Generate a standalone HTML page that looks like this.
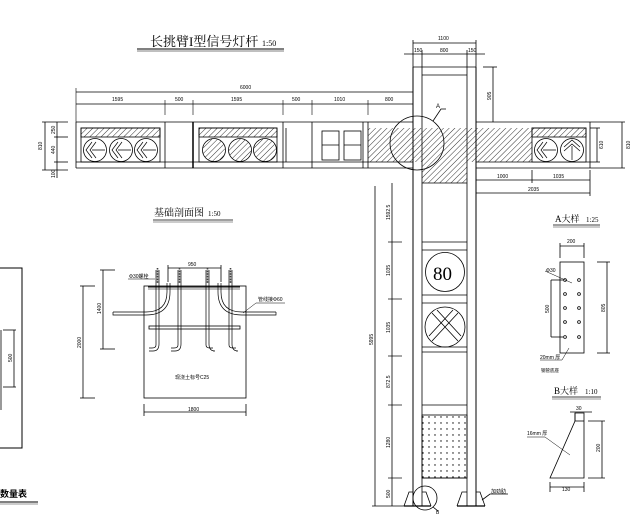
<!DOCTYPE html>
<html><head><meta charset="utf-8"><style>
html,body{margin:0;padding:0;background:#fff;}
svg{display:block;}
text{font-family:"Liberation Sans","Noto Sans CJK SC",sans-serif;fill:#000;}
.d{font-size:5px;}
.t{font-family:"Liberation Serif","Noto Serif CJK SC",serif;}
</style></head><body>
<svg width="639" height="522" viewBox="0 0 639 522" xmlns="http://www.w3.org/2000/svg" stroke="#000" fill="none" stroke-width="0.8">
<defs>
<pattern id="h" width="4" height="4" patternUnits="userSpaceOnUse" patternTransform="rotate(45)">
<line x1="0" y1="0" x2="0" y2="4" stroke="#000" stroke-width="0.8"/>
</pattern>
<pattern id="dots" width="6" height="6" patternUnits="userSpaceOnUse">
<circle cx="3" cy="3" r="0.7" fill="#000" stroke="none"/>
</pattern>
</defs>

<!-- Title -->
<text x="150" y="46" class="t" font-size="13" stroke="none">长挑臂I型信号灯杆</text>
<text x="262" y="46" class="t" font-size="8" stroke="none">1:50</text>
<line x1="137" y1="49" x2="284" y2="49" stroke-width="1"/>
<line x1="137" y1="51" x2="284" y2="51" stroke-width="0.5"/>

<!-- top dims -->
<line x1="76" y1="92" x2="413" y2="92"/>
<line x1="76" y1="104" x2="413" y2="104"/>
<g stroke-width="0.6">
<line x1="76" y1="88" x2="76" y2="122"/>
<line x1="165" y1="100" x2="165" y2="115"/><line x1="193" y1="100" x2="193" y2="115"/>
<line x1="283" y1="100" x2="283" y2="115"/><line x1="312" y1="100" x2="312" y2="115"/>
<line x1="368" y1="100" x2="368" y2="115"/>
</g>
<g stroke="none">
<text x="240" y="89" class="d">6000</text>
<text x="112" y="101" class="d">1595</text>
<text x="175" y="101" class="d">500</text>
<text x="231" y="101" class="d">1595</text>
<text x="292" y="101" class="d">500</text>
<text x="334" y="101" class="d">1010</text>
<text x="385" y="101" class="d">800</text>
</g>

<!-- left dims -->
<line x1="45" y1="122" x2="45" y2="170"/>
<line x1="42" y1="122" x2="68" y2="122"/><line x1="42" y1="170" x2="68" y2="170"/>
<line x1="57" y1="122" x2="57" y2="178"/>
<line x1="54" y1="137" x2="68" y2="137"/><line x1="54" y1="162" x2="68" y2="162"/>
<g stroke="none" class="d">
<text transform="translate(42,150) rotate(-90)" class="d">810</text>
<text transform="translate(55,134) rotate(-90)" class="d">250</text>
<text transform="translate(55,154) rotate(-90)" class="d">440</text>
<text transform="translate(55,178) rotate(-90)" class="d">100</text>
</g>

<!-- Arm -->
<line x1="76" y1="122" x2="413" y2="122"/>
<line x1="476" y1="122" x2="590" y2="122"/>
<line x1="76" y1="168" x2="413" y2="168"/>
<line x1="476" y1="168" x2="590" y2="168"/>
<line x1="76" y1="162" x2="413" y2="162"/>
<line x1="476" y1="162" x2="590" y2="162"/>
<line x1="76" y1="122" x2="76" y2="168"/>
<line x1="590" y1="122" x2="590" y2="168"/>
<!-- unit1 -->
<rect x="81" y="128" width="79" height="34"/>
<rect x="81" y="128" width="79" height="9" fill="url(#h)"/>
<g>
<circle cx="95" cy="150" r="11.5"/><circle cx="121" cy="150" r="11.5"/><circle cx="146" cy="150" r="11.5"/>
</g>
<g stroke-width="0.7">
<path d="M92 142 L86 150 L92 158 M96 142 L90 150 L96 158 M92 150 H105"/>
<path d="M118 142 L112 150 L118 158 M122 142 L116 150 L122 158 M118 150 H131"/>
<path d="M143 142 L137 150 L143 158 M147 142 L141 150 L147 158 M143 150 H156"/>
</g>
<line x1="165" y1="122" x2="165" y2="168"/>
<line x1="193" y1="122" x2="193" y2="168" stroke-width="1.5"/>
<!-- unit2 -->
<rect x="199" y="128" width="78" height="34"/>
<rect x="199" y="128" width="78" height="9" fill="url(#h)"/>
<circle cx="214" cy="150" r="11.5" fill="url(#h)"/>
<circle cx="240" cy="150" r="11.5" fill="url(#h)"/>
<circle cx="265" cy="150" r="11.5" fill="url(#h)"/>
<line x1="283" y1="122" x2="283" y2="168"/><line x1="286" y1="128" x2="286" y2="162"/>
<line x1="312" y1="122" x2="312" y2="168"/>
<!-- unit3 -->
<rect x="322" y="131" width="17" height="29"/><line x1="322" y1="145" x2="339" y2="145"/>
<rect x="344" y="131" width="17" height="29"/><line x1="344" y1="145" x2="361" y2="145"/>
<line x1="363" y1="122" x2="363" y2="168"/><line x1="368" y1="122" x2="368" y2="168"/>
<!-- hatched center -->
<rect x="368" y="128" width="164" height="34" fill="url(#h)" stroke="none"/>
<rect x="422" y="162" width="45" height="21" fill="url(#h)" stroke="none"/>
<line x1="422" y1="183" x2="467" y2="183"/>
<!-- unit right -->
<rect x="532" y="128" width="54" height="34" fill="#fff"/>
<rect x="532" y="128" width="54" height="9" fill="url(#h)"/>
<circle cx="546" cy="150" r="11.5"/><circle cx="572" cy="150" r="11.5"/>
<g stroke-width="0.7">
<path d="M543 142 L537 150 L543 158 M547 142 L541 150 L547 158 M543 150 H556"/>
<path d="M564 147 L572 140 L580 147 M564 151 L572 144 L580 151 M572 146 V160"/>
</g>

<!-- Pole -->
<line x1="413" y1="67" x2="413" y2="506" stroke-width="1"/>
<line x1="476" y1="67" x2="476" y2="506" stroke-width="1"/>
<line x1="422" y1="67" x2="422" y2="506"/>
<line x1="467" y1="67" x2="467" y2="506"/>
<line x1="413" y1="67" x2="476" y2="67"/>
<line x1="422" y1="75" x2="467" y2="75"/>
<circle cx="417" cy="143" r="27"/>
<path d="M433 121 L441 109 H446"/>
<text x="436" y="108" font-size="6" stroke="none">A</text>

<!-- pole top dims -->
<line x1="413" y1="43" x2="476" y2="43"/>
<line x1="404" y1="54" x2="485" y2="54"/>
<line x1="413" y1="40" x2="413" y2="67"/><line x1="476" y1="40" x2="476" y2="67"/>
<line x1="422" y1="50" x2="422" y2="67"/><line x1="467" y1="50" x2="467" y2="67"/>
<g stroke="none">
<text x="438" y="40" class="d">1100</text>
<text x="414" y="52" class="d">150</text>
<text x="440" y="52" class="d">800</text>
<text x="468" y="52" class="d">150</text>
<text transform="translate(491,100) rotate(-90)" class="d">905</text>
</g>
<line x1="493" y1="67" x2="493" y2="122"/><line x1="483" y1="67" x2="497" y2="67"/>
<!-- right dims -->
<line x1="597" y1="128" x2="597" y2="162"/><line x1="590" y1="128" x2="600" y2="128"/><line x1="590" y1="162" x2="600" y2="162"/>
<line x1="622" y1="122" x2="622" y2="168"/><line x1="590" y1="122" x2="625" y2="122"/><line x1="590" y1="168" x2="625" y2="168"/>
<g stroke="none">
<text transform="translate(603,149) rotate(-90)" class="d">610</text>
<text transform="translate(630,149) rotate(-90)" class="d">810</text>
<text x="497" y="178" class="d">1000</text>
<text x="553" y="178" class="d">1035</text>
<text x="528" y="191" class="d">2035</text>
</g>
<line x1="476" y1="180" x2="590" y2="180"/><line x1="532" y1="170" x2="532" y2="183"/>
<line x1="476" y1="193" x2="590" y2="193"/>
<line x1="590" y1="170" x2="590" y2="196"/>

<!-- pole interior -->
<line x1="422" y1="242" x2="467" y2="242"/>
<line x1="422" y1="250" x2="467" y2="250"/>
<circle cx="445" cy="272" r="19.5"/>
<text x="433" y="280" font-size="19" stroke="none" class="t">80</text>
<line x1="422" y1="295" x2="467" y2="295"/>
<line x1="422" y1="303" x2="467" y2="303"/>
<circle cx="445" cy="327" r="20"/>
<path d="M432 313 L458 341 M437 310 L461 336 M458 313 L432 341 M453 310 L429 336" stroke-width="0.8"/>
<line x1="422" y1="347" x2="467" y2="347"/>
<line x1="422" y1="352" x2="467" y2="352"/>
<line x1="422" y1="405" x2="467" y2="405"/>
<rect x="422" y="415" width="45" height="63" fill="url(#dots)"/>
<line x1="422" y1="478" x2="467" y2="478"/>

<!-- pole left dims -->
<line x1="375" y1="186" x2="375" y2="506"/>
<line x1="392" y1="183" x2="392" y2="506"/>
<g stroke-width="0.7">
<line x1="388" y1="242" x2="402" y2="242"/><line x1="388" y1="299" x2="402" y2="299"/>
<line x1="388" y1="356" x2="402" y2="356"/><line x1="388" y1="405" x2="402" y2="405"/>
<line x1="388" y1="478" x2="402" y2="478"/><line x1="372" y1="506" x2="404" y2="506"/>
</g>
<g stroke="none">
<text transform="translate(373,345) rotate(-90)" class="d">5995</text>
<text transform="translate(390,220) rotate(-90)" class="d">1592.5</text>
<text transform="translate(390,276) rotate(-90)" class="d">1035</text>
<text transform="translate(390,333) rotate(-90)" class="d">1035</text>
<text transform="translate(390,388) rotate(-90)" class="d">872.5</text>
<text transform="translate(390,448) rotate(-90)" class="d">1280</text>
<text transform="translate(390,498) rotate(-90)" class="d">500</text>
</g>
<!-- base -->
<line x1="404" y1="506" x2="431" y2="506" stroke-width="1.3"/>
<line x1="457" y1="506" x2="485" y2="506" stroke-width="1.3"/>
<path d="M404 506 L409 492 H413 M422 492 H426 L431 506"/>
<path d="M457 506 L462 492 H467 M476 492 H480 L485 506"/>
<circle cx="425" cy="498" r="12"/>
<path d="M433 507 L438 511"/>
<text x="436" y="514" font-size="5" stroke="none">B</text>
<path d="M482 500 L490 494 H508"/>
<text x="491" y="493" font-size="5" stroke="none">加劲肋</text>

<!-- A detail -->
<text x="555" y="222" class="t" font-size="9" stroke="none">A大样</text>
<text x="586" y="222" class="t" font-size="7" stroke="none">1:25</text>
<line x1="553" y1="225" x2="600" y2="225"/><line x1="553" y1="227" x2="600" y2="227" stroke-width="0.4"/>
<rect x="560" y="262" width="24" height="91"/>
<g>
<circle cx="565" cy="280" r="1.4"/><circle cx="579" cy="280" r="1.4"/>
<circle cx="565" cy="294" r="1.4"/><circle cx="579" cy="294" r="1.4"/>
<circle cx="565" cy="308" r="1.4"/><circle cx="579" cy="308" r="1.4"/>
<circle cx="565" cy="322" r="1.4"/><circle cx="579" cy="322" r="1.4"/>
<circle cx="565" cy="337" r="1.4"/><circle cx="579" cy="337" r="1.4"/>
</g>
<line x1="560" y1="246" x2="584" y2="246"/><line x1="560" y1="243" x2="560" y2="258"/><line x1="584" y1="243" x2="584" y2="258"/>
<text x="567" y="243" class="d" stroke="none">200</text>
<line x1="607" y1="262" x2="607" y2="353"/><line x1="597" y1="262" x2="610" y2="262"/><line x1="597" y1="353" x2="610" y2="353"/>
<text transform="translate(605,312) rotate(-90)" class="d" stroke="none">805</text>
<line x1="551" y1="280" x2="551" y2="337"/><line x1="551" y1="280" x2="563" y2="280"/><line x1="551" y1="337" x2="563" y2="337"/>
<text transform="translate(549,313) rotate(-90)" class="d" stroke="none">500</text>
<path d="M545 271 L572 283" stroke-width="0.5"/>
<text x="546" y="272" class="d" stroke="none">Φ30</text>
<path d="M540 360 H562 L569 348" stroke-width="0.5"/>
<text x="540" y="359" class="d" stroke="none">20mm 厚</text>
<text x="541" y="372" font-size="4.5" stroke="none">钢管底座</text>

<!-- B detail -->
<text x="554" y="394" class="t" font-size="9" stroke="none">B大样</text>
<text x="585" y="394" class="t" font-size="7" stroke="none">1:10</text>
<line x1="552" y1="397" x2="601" y2="397"/><line x1="552" y1="399" x2="601" y2="399" stroke-width="0.4"/>
<path d="M575 413 H584 V478 H550 L575 421 Z"/>
<line x1="575" y1="413" x2="575" y2="421"/><line x1="575" y1="421" x2="584" y2="421"/>
<line x1="570" y1="412" x2="592" y2="412"/>
<text x="576" y="410" class="d" stroke="none">30</text>
<line x1="602" y1="421" x2="602" y2="478"/><line x1="588" y1="421" x2="605" y2="421"/><line x1="588" y1="478" x2="605" y2="478"/>
<text transform="translate(600,452) rotate(-90)" class="d" stroke="none">200</text>
<line x1="550" y1="487" x2="584" y2="487"/><line x1="550" y1="482" x2="550" y2="492"/><line x1="584" y1="482" x2="584" y2="492"/>
<text x="562" y="491" class="d" stroke="none">130</text>
<path d="M527 437 H545 L570 455" stroke-width="0.5"/>
<text x="527" y="435" class="d" stroke="none">16mm 厚</text>

<!-- Foundation -->
<text x="154" y="216" class="t" font-size="10" stroke="none">基础剖面图</text>
<text x="208" y="216" class="t" font-size="7" stroke="none">1:50</text>
<line x1="153" y1="220" x2="233" y2="220"/><line x1="153" y1="222" x2="233" y2="222" stroke-width="0.4"/>
<rect x="144" y="286" width="102" height="112"/>
<line x1="148" y1="287" x2="240" y2="287" stroke-width="1"/><line x1="148" y1="289" x2="240" y2="289" stroke-width="0.5"/>
<rect x="149" y="326" width="91" height="3"/>
<!-- bolts -->
<g stroke-width="0.7">
<path d="M156 270 V345 Q156 348 152 348 H149 M159 270 V344 Q159 351 153 351 H149"/>
<path d="M178 270 V345 Q178 348 174 348 H171 M181 270 V344 Q181 351 175 351 H171"/>
<path d="M209 270 V345 Q209 348 213 348 H216 M212 270 V344 Q212 351 218 351 H216" transform="translate(-3,0)"/>
<path d="M231 270 V345 Q231 348 235 348 H238 M234 270 V344 Q234 351 240 351 H238" transform="translate(-2,0)"/>
</g>
<g stroke-width="1.6" stroke-dasharray="0.8 0.8">
<line x1="157.5" y1="268" x2="157.5" y2="283"/><line x1="179.5" y1="268" x2="179.5" y2="283"/>
<line x1="207.5" y1="268" x2="207.5" y2="283"/><line x1="230.5" y1="268" x2="230.5" y2="283"/>
</g>
<!-- pipes -->
<g stroke-width="0.7">
<path d="M167 283 V292 Q167 312 146 312 H113 M170 283 V292 Q170 315 146 315 H113 V312"/>
<path d="M221 283 V292 Q221 312 242 312 H276 M218 283 V292 Q218 315 242 315 H276 V312"/>
</g>
<line x1="168" y1="268" x2="221" y2="268"/><line x1="168" y1="265" x2="168" y2="282"/><line x1="221" y1="265" x2="221" y2="282"/>
<text x="188" y="266" class="d" stroke="none">950</text>
<line x1="103" y1="270" x2="103" y2="349"/><line x1="100" y1="270" x2="115" y2="270"/><line x1="100" y1="349" x2="115" y2="349"/>
<text transform="translate(101,314) rotate(-90)" class="d" stroke="none">1400</text>
<line x1="83" y1="286" x2="83" y2="398"/><line x1="80" y1="286" x2="95" y2="286"/><line x1="80" y1="398" x2="95" y2="398"/>
<text transform="translate(81,348) rotate(-90)" class="d" stroke="none">2000</text>
<line x1="144" y1="412" x2="246" y2="412"/><line x1="144" y1="404" x2="144" y2="416"/><line x1="246" y1="404" x2="246" y2="416"/>
<text x="188" y="411" class="d" stroke="none">1800</text>
<text x="175" y="379" font-size="5" stroke="none" fill="#555">现浇土标号C25</text>
<path d="M128 279 H155" stroke-width="0.5"/>
<text x="129" y="278" class="d" stroke="none">Φ30螺栓</text>
<path d="M243 313 L256 303 H285" stroke-width="0.5"/>
<text x="258" y="301" class="d" stroke="none">管线接Φ60</text>

<!-- left partial -->
<path d="M0 268 H22 V448 H0" stroke-width="1"/>
<line x1="14" y1="330" x2="14" y2="387"/><line x1="3" y1="330" x2="16" y2="330"/><line x1="3" y1="387" x2="16" y2="387"/>
<text transform="translate(12,362) rotate(-90)" class="d" stroke="none">500</text>
<line x1="1" y1="330" x2="1" y2="410"/>
<text x="0" y="497" font-size="9" font-weight="bold" stroke="none">数量表</text>
<line x1="0" y1="502" x2="38" y2="502" stroke-width="1"/><line x1="0" y1="504" x2="38" y2="504" stroke-width="0.4"/>
</svg>
</body></html>
